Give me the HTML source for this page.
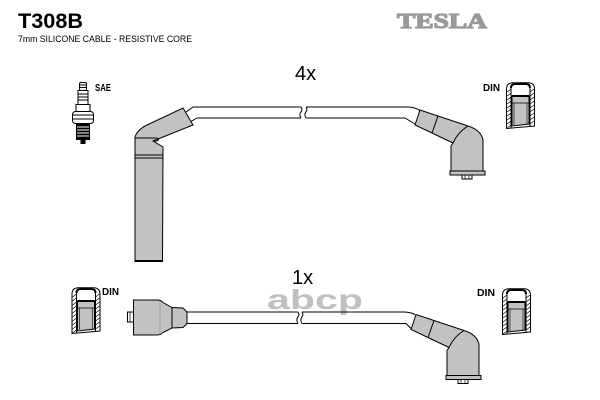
<!DOCTYPE html>
<html><head><meta charset="utf-8">
<style>
html,body{margin:0;padding:0;background:#fff;}
svg{display:block;}
text{font-family:"Liberation Sans",Arial,sans-serif;}
</style></head>
<body>
<svg width="600" height="400" viewBox="0 0 600 400" xmlns="http://www.w3.org/2000/svg">
<defs>
  <g id="din">
    <path d="M0.5,46.5 L0.5,7 Q0.5,1 7,0.8 L22,0.8 Q28.5,1 28.5,7 L28.5,44 Z" fill="#fff" stroke="#000" stroke-width="1"/>
    <line x1="5" y1="6" x2="5" y2="46" stroke="#000" stroke-width="1"/>
    <line x1="24" y1="6" x2="24" y2="44" stroke="#000" stroke-width="1"/>
    <g stroke="#000" stroke-width="0.7">
      <line x1="1" y1="10" x2="5" y2="7"/><line x1="1" y1="14" x2="5" y2="11"/>
      <line x1="1" y1="18" x2="5" y2="15"/><line x1="1" y1="22" x2="5" y2="19"/>
      <line x1="1" y1="26" x2="5" y2="23"/><line x1="1" y1="30" x2="5" y2="27"/>
      <line x1="1" y1="34" x2="5" y2="31"/><line x1="1" y1="38" x2="5" y2="35"/>
      <line x1="1" y1="42" x2="5" y2="39"/><line x1="1" y1="46" x2="5" y2="43"/>
      <line x1="24" y1="10" x2="28" y2="7"/><line x1="24" y1="14" x2="28" y2="11"/>
      <line x1="24" y1="18" x2="28" y2="15"/><line x1="24" y1="22" x2="28" y2="19"/>
      <line x1="24" y1="26" x2="28" y2="23"/><line x1="24" y1="30" x2="28" y2="27"/>
      <line x1="24" y1="34" x2="28" y2="31"/><line x1="24" y1="38" x2="28" y2="35"/>
      <line x1="24" y1="42" x2="28" y2="39"/>
    </g>
    <path d="M5,6 Q5,2 9,2 L20,2 Q24,2 24,6" fill="none" stroke="#000" stroke-width="2"/>
    <path d="M6,14 L23,14 L23,42 L6,44 Z" fill="#c2c2c2" stroke="#000" stroke-width="1"/>
    <line x1="6" y1="14" x2="23" y2="14" stroke="#000" stroke-width="2"/>
    <line x1="6" y1="21" x2="23" y2="21" stroke="#000" stroke-width="0.8"/>
    <line x1="8" y1="21" x2="8" y2="43" stroke="#000" stroke-width="0.6"/>
    <line x1="21" y1="21" x2="21" y2="42" stroke="#000" stroke-width="0.6"/>
  </g>
  <g id="elbow">
    <path d="M415,125 L420,110 L468,126 Q481,130 483,140 L483,171 L451,171 L451,146 L453,143 L432,133 Z" fill="#c2c2c2" stroke="#000" stroke-width="1"/>
    <line x1="438" y1="116" x2="432" y2="133" stroke="#000" stroke-width="1"/>
    <path d="M468,126 Q458,132 453,143" fill="none" stroke="#000" stroke-width="1"/>
    <rect x="450" y="171" width="35" height="4" fill="#c2c2c2" stroke="#000" stroke-width="1"/>
    <rect x="462" y="175" width="10" height="4" fill="#fff" stroke="#000" stroke-width="1"/>
    <line x1="465" y1="175" x2="465" y2="179" stroke="#000" stroke-width="0.7"/>
    <line x1="469" y1="175" x2="469" y2="179" stroke="#000" stroke-width="0.7"/>
  </g>
</defs>

<text x="18" y="28" font-size="21" font-weight="bold" fill="#000" textLength="65" lengthAdjust="spacingAndGlyphs">T308B</text>
<text x="18" y="42" font-size="9.5" fill="#000" textLength="174" lengthAdjust="spacingAndGlyphs">7mm SILICONE CABLE - RESISTIVE CORE</text>
<text x="397" y="28" font-size="21" font-weight="bold" fill="#999" stroke="#999" stroke-width="1.2" textLength="90" lengthAdjust="spacingAndGlyphs" style="font-family:'Liberation Serif',serif">TESLA</text>

<text x="267" y="309" font-size="28" font-weight="bold" fill="#c0c0c0" textLength="96" lengthAdjust="spacingAndGlyphs">abcp</text>

<text x="295" y="80" font-size="20" fill="#000">4x</text>
<text x="292" y="284" font-size="20" fill="#000">1x</text>

<g stroke="#000" stroke-width="1" fill="#fff">
  <rect x="79.5" y="82.5" width="7" height="8" rx="1.5"/>
  <line x1="79.5" y1="85" x2="86.5" y2="85"/>
  <line x1="79.5" y1="87.5" x2="86.5" y2="87.5"/>
  <rect x="78" y="90.5" width="10" height="14"/>
  <line x1="78" y1="94" x2="88" y2="94"/>
  <line x1="78" y1="97" x2="88" y2="97"/>
  <line x1="78" y1="100" x2="88" y2="100"/>
  <rect x="76" y="104.5" width="14" height="7"/>
  <rect x="72.5" y="111.5" width="21" height="12" rx="3"/>
  <line x1="72.5" y1="115" x2="93.5" y2="115"/>
  <line x1="72.5" y1="119" x2="93.5" y2="119"/>
  <rect x="76.5" y="123.5" width="13" height="16" fill="#000"/>
  <line x1="77" y1="127" x2="89" y2="127" stroke="#fff"/>
  <line x1="77" y1="130" x2="89" y2="130" stroke="#fff"/>
  <line x1="77" y1="133" x2="89" y2="133" stroke="#fff"/>
  <line x1="77" y1="136" x2="89" y2="136" stroke="#fff"/>
  <rect x="81" y="139.5" width="4" height="4" fill="#000"/>
</g>
<text x="95" y="91" font-size="10" font-weight="bold" fill="#000" textLength="16" lengthAdjust="spacingAndGlyphs">SAE</text>

<text x="483" y="91" font-size="10" font-weight="bold" fill="#000" textLength="17" lengthAdjust="spacingAndGlyphs">DIN</text>
<use href="#din" x="506" y="82"/>
<text x="102" y="295" font-size="10" font-weight="bold" fill="#000" textLength="17" lengthAdjust="spacingAndGlyphs">DIN</text>
<use href="#din" x="71.5" y="287"/>
<text x="477" y="296" font-size="10" font-weight="bold" fill="#000" textLength="18" lengthAdjust="spacingAndGlyphs">DIN</text>
<use href="#din" x="502" y="288"/>

<g fill="none" stroke="#000" stroke-width="1">
  <path d="M186,112 L193,107 L301,107"/>
  <path d="M190,122 L197,118 L301,118"/>
  <path d="M306,107 L408,107 Q414,107 420,110.5"/>
  <path d="M306,118 L405,118 L415,124"/>
  <path d="M301,107 Q303,110 300.5,112.5 Q299,115 301,118"/>
  <path d="M306,107 Q308,110 305.5,112.5 Q304,115 306,118"/>
</g>

<path d="M135,261 L135,137 Q137,130 146,125.5 L183,108 L193,125 L153,141 L163,147 L162.5,261 Z" fill="#c2c2c2" stroke="#000" stroke-width="1"/>
<path d="M135,138 L157,138 Q160,139 157,141 L153,141" fill="none" stroke="#000" stroke-width="1"/>
<line x1="135" y1="155" x2="162.5" y2="155" stroke="#000" stroke-width="1"/>
<line x1="135" y1="158" x2="162.5" y2="158" stroke="#000" stroke-width="1"/>
<line x1="134.5" y1="261" x2="163" y2="261" stroke="#000" stroke-width="2"/>

<use href="#elbow"/>

<g fill="none" stroke="#000" stroke-width="1">
  <path d="M185,312 L298,312"/>
  <path d="M185,323.5 L298,323.5"/>
  <path d="M302,312 L403,312 Q410,312 415,314.5"/>
  <path d="M302,323.5 L406,323.5 L411,328.5"/>
  <path d="M298,312 Q300,315 297.5,317.5 Q296,320.5 298,323.5"/>
  <path d="M302,312 Q304,315 301.5,317.5 Q300,320.5 302,323.5"/>
</g>

<rect x="127.5" y="312" width="6" height="10" fill="#fff" stroke="#000" stroke-width="1"/>
<line x1="130" y1="312" x2="130" y2="322" stroke="#000" stroke-width="0.7"/>
<path d="M133.5,300 L157,300 Q161,300 163,302.5 L172,307.5 L183,308 L187,312 L187,323.5 L183,327.5 L172,328 L163,332.5 Q161,335 157,335 L133.5,335 Z" fill="#c2c2c2" stroke="#000" stroke-width="1"/>
<line x1="172" y1="307.5" x2="172" y2="328" stroke="#000" stroke-width="1"/>
<line x1="160" y1="301" x2="160" y2="334" stroke="#888" stroke-width="0.6"/>

<use href="#elbow" x="-4" y="204.5"/>
</svg>
</body></html>
